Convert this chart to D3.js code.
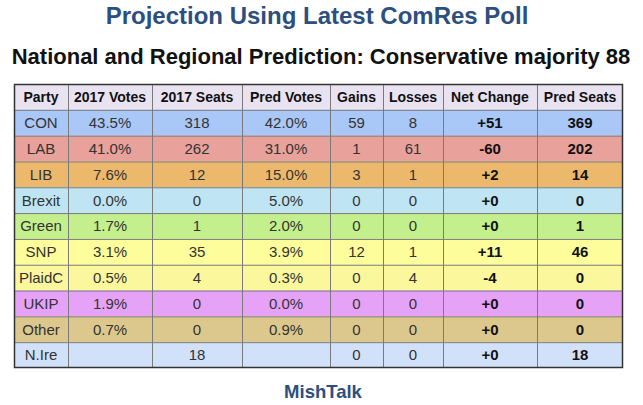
<!DOCTYPE html>
<html lang="en">
<head>
    <meta charset="UTF-8">
    <title>Projection Using Latest ComRes Poll</title>
    <script src="https://d3js.org/d3.v7.min.js"></script>
    <style>
        * { margin: 0; padding: 0; }
        body { background: #fff; }
    </style>
</head>
<body>
    <svg width="643" height="405"></svg>
    <script>
        var columns = ["Party", "2017 Votes", "2017 Seats", "Pred Votes", "Gains", "Losses", "Net Change", "Pred Seats"];
        var parties = ["CON", "LAB", "LIB", "Brexit", "Green", "SNP", "PlaidC", "UKIP", "Other", "N.Ire"];
        var votes2017 = ["43.5%", "41.0%", "7.6%", "0.0%", "1.7%", "3.1%", "0.5%", "1.9%", "0.7%", ""];
        var seats2017 = [318, 262, 12, 0, 1, 35, 4, 0, 0, 18];
        var predVotes = ["42.0%", "31.0%", "15.0%", "5.0%", "2.0%", "3.9%", "0.3%", "0.0%", "0.9%", ""];
        var gains = [59, 1, 3, 0, 0, 12, 0, 0, 0, 0];
        var losses = [8, 61, 1, 0, 0, 1, 4, 0, 0, 0];
        var netChange = ["+51", "-60", "+2", "+0", "+0", "+11", "-4", "+0", "+0", "+0"];
        var predSeats = [369, 202, 14, 0, 1, 46, 0, 0, 0, 18];
        var rowColors = ["#a9c7f7", "#e8a19b", "#ecb96c", "#bfe5f5", "#c3ef8c", "#fdfd9c", "#fbf79c", "#e5a2f6", "#dcc88c", "#d1e1fa"];

        var svg = d3.select("svg");

        // titles
        svg.append("text")
            .attr("x", 317).attr("y", 24)
            .attr("text-anchor", "middle")
            .style("font", "bold 24px 'Liberation Sans', Arial, sans-serif")
            .attr("fill", "#2c4f7f")
            .text("Projection Using Latest ComRes Poll");
        svg.append("text")
            .attr("x", 321).attr("y", 64)
            .attr("text-anchor", "middle")
            .style("font", "bold 22px 'Liberation Sans', Arial, sans-serif")
            .attr("fill", "#111")
            .text("National and Regional Prediction: Conservative majority 88");
        svg.append("text")
            .attr("x", 323).attr("y", 398)
            .attr("text-anchor", "middle")
            .style("font", "bold 18.5px 'Liberation Sans', Arial, sans-serif")
            .attr("fill", "#2c4f7f")
            .text("MishTalk");

        // table geometry
        var colWidths = [54, 84, 90, 88, 53, 60, 94, 86];
        var tLeft = 14, tTop = 84, tBottom = 368;
        var edges = [tLeft].concat(Array.from(d3.cumsum(colWidths), function (d) { return tLeft + d; }));
        var tRight = edges[edges.length - 1];
        var x = d3.scaleOrdinal().domain(columns).range(edges.slice(0, -1));
        var w = d3.scaleOrdinal().domain(columns).range(colWidths);
        var y = d3.scaleBand().domain(["header"].concat(parties)).range([tTop, tBottom]);

        var rows = parties.map(function (p, i) {
            return [p, votes2017[i], seats2017[i], predVotes[i], gains[i], losses[i], netChange[i], predSeats[i]];
        });

        var table = svg.append("g");

        // header
        var head = table.append("g");
        head.append("rect")
            .attr("x", tLeft).attr("y", y("header"))
            .attr("width", tRight - tLeft).attr("height", y.bandwidth())
            .attr("fill", "#e8e2f1");
        head.selectAll("text")
            .data(columns)
            .enter()
            .append("text")
            .attr("x", function (d) { return x(d) + w(d) / 2; })
            .attr("y", y("header") + y.bandwidth() / 2)
            .attr("dy", "0.36em")
            .attr("text-anchor", "middle")
            .style("font", "bold 14px 'Liberation Sans', Arial, sans-serif")
            .attr("fill", "#111")
            .text(function (d) { return d; });

        // body rows
        var rowG = table.selectAll("g.row")
            .data(rows)
            .enter()
            .append("g")
            .attr("class", "row")
            .attr("transform", function (d) { return "translate(0," + y(d[0]) + ")"; });

        rowG.append("rect")
            .attr("x", tLeft).attr("y", 0)
            .attr("width", tRight - tLeft).attr("height", y.bandwidth())
            .attr("fill", function (d, i) { return rowColors[i]; });

        rowG.selectAll("text")
            .data(function (d) { return d; })
            .enter()
            .append("text")
            .attr("x", function (d, j) { return x(columns[j]) + w(columns[j]) / 2; })
            .attr("y", y.bandwidth() / 2)
            .attr("dy", "0.36em")
            .attr("text-anchor", "middle")
            .style("font", function (d, j) {
                return (j >= 6 ? "bold " : "") + "15px 'Liberation Sans', Arial, sans-serif";
            })
            .attr("fill", function (d, j) { return j >= 6 ? "#111" : "#333"; })
            .text(function (d) { return d; });

        // grid lines
        table.selectAll("line.h")
            .data(y.domain().slice(1))
            .enter()
            .append("line")
            .attr("x1", tLeft).attr("x2", tRight)
            .attr("y1", function (d) { return y(d) + 0.5; })
            .attr("y2", function (d) { return y(d) + 0.5; })
            .attr("stroke", "#7a7a7a");
        table.selectAll("line.v")
            .data(edges.slice(1, -1))
            .enter()
            .append("line")
            .attr("x1", function (d) { return d + 0.5; })
            .attr("x2", function (d) { return d + 0.5; })
            .attr("y1", tTop).attr("y2", tBottom)
            .attr("stroke", "#7a7a7a");
        table.append("rect")
            .attr("x", tLeft + 0.5).attr("y", tTop + 0.5)
            .attr("width", tRight - tLeft - 1).attr("height", tBottom - tTop - 1)
            .attr("fill", "none")
            .attr("stroke", "#333")
            .attr("stroke-width", 1.5);
    </script>
</body>
</html>
